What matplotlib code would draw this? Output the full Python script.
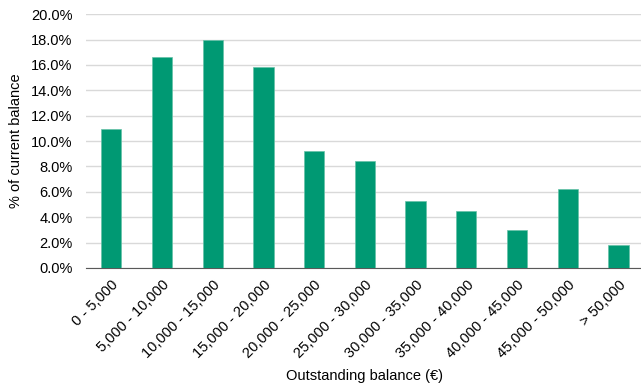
import matplotlib.pyplot as plt
from matplotlib.ticker import PercentFormatter

plt.rcParams['font.family'] = ['Liberation Sans', 'DejaVu Sans']

# balance buckets and share of current balance (%)
buckets = ['0 - 5,000', '5,000 - 10,000', '10,000 - 15,000', '15,000 - 20,000',
           '20,000 - 25,000', '25,000 - 30,000', '30,000 - 35,000', '35,000 - 40,000',
           '40,000 - 45,000', '45,000 - 50,000', '> 50,000']
share = [10.95, 16.6, 18.0, 15.8, 9.25, 8.4, 5.3, 4.5, 3.0, 6.25, 1.8]

fig = plt.figure(figsize=(6.41, 3.87), dpi=100)
ax = fig.add_axes([0.134, 0.3075, 0.8705, 0.656])

x = range(len(buckets))
ax.bar(x, share, width=0.4, color='#009973', edgecolor='#66c2a8', linewidth=0.5, zorder=3)

ax.set_ylim(0, 20)
ax.set_yticks(range(0, 21, 2))
ax.yaxis.set_major_formatter(PercentFormatter(decimals=1))
ax.set_xlim(-0.5, len(buckets) - 0.5)
ax.set_xticks(list(x))
ax.set_xticklabels(buckets, rotation=45, ha='right', rotation_mode='anchor')

ax.grid(axis='y', color='#d9d9d9', linewidth=1, zorder=0)
for s in ['top', 'right', 'left']:
    ax.spines[s].set_visible(False)
ax.spines['bottom'].set_color('#595959')
ax.tick_params(axis='both', length=0, labelsize=10.5, colors='#000000')
ax.tick_params(axis='y', pad=9.5)
ax.tick_params(axis='x', pad=7)

ax.set_ylabel('% of current balance', fontsize=10.5, labelpad=6)
ax.set_xlabel('Outstanding balance (€)', fontsize=10.5, labelpad=6)

fig.savefig('out.png', dpi=100)
